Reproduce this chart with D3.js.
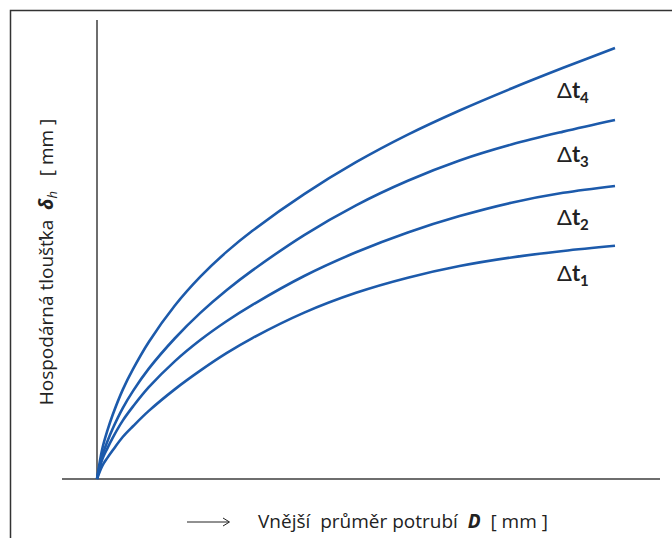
<!DOCTYPE html>
<html>
<head>
<meta charset="utf-8">
<script src="https://cdn.jsdelivr.net/npm/d3@7"></script>
<style>
  body { margin: 0; background: #fff; }
  svg { display: block; }
  text { font-family: "Open Sans", Lato, sans-serif; fill: #222; }
</style>
</head>
<body>
<svg id="chart" width="672" height="538"></svg>
<script>
// (relative units, D and thickness both 0..100)
var diameter = [0, 1, 2, 3, 5, 7, 10, 15, 20, 25, 30, 40, 50, 60, 70, 80, 90, 100];
var dt1 = [0, 3.0, 4.9, 6.6, 9.8, 12.3, 15.8, 20.8, 25.2, 29.2, 32.7, 38.6, 43.2, 46.7, 49.4, 51.4, 52.9, 54.1];
var dt2 = [0, 4.5, 7.1, 9.5, 13.6, 16.9, 21.3, 27.3, 32.3, 36.6, 40.4, 47.1, 52.6, 57.2, 61.0, 64.1, 66.4, 68.0];
var dt3 = [0, 5.4, 8.7, 11.6, 16.5, 20.5, 25.6, 32.6, 38.6, 43.8, 48.4, 56.6, 63.5, 69.2, 73.9, 77.6, 80.6, 83.3];
var dt4 = [0, 6.9, 11.2, 14.8, 20.8, 25.6, 31.8, 40.2, 47.0, 52.7, 57.6, 66.1, 73.5, 79.9, 85.5, 90.6, 95.4, 100];
var seriesNames = ["1", "2", "3", "4"];
var seriesValues = [dt1, dt2, dt3, dt4];

var svg = d3.select("#chart");

var x = d3.scaleLinear().domain([0, 100]).range([97, 615]);
var y = d3.scaleLinear().domain([0, 100]).range([479, 48]);

// frame (only top and left edge are in the picture)
svg.append("path")
  .attr("d", "M10.5,538 L10.5,10.5 L672,10.5")
  .attr("fill", "none")
  .attr("stroke", "#333")
  .attr("stroke-width", 1.5);

// axes
svg.append("line")
  .attr("x1", x(0)).attr("x2", x(0))
  .attr("y1", 20).attr("y2", y(0) + 1)
  .attr("stroke", "#6e6e6e").attr("stroke-width", 2);
svg.append("line")
  .attr("x1", 62).attr("x2", 660)
  .attr("y1", y(0)).attr("y2", y(0))
  .attr("stroke", "#6e6e6e").attr("stroke-width", 2);

var line = d3.line()
  .x(function (d, i) { return x(diameter[i]); })
  .y(function (d) { return y(d); })
  .curve(d3.curveCatmullRom.alpha(0.5));

svg.append("g").selectAll("path")
  .data(seriesValues)
  .enter().append("path")
  .attr("d", line)
  .attr("fill", "none")
  .attr("stroke", "#1c5aab")
  .attr("stroke-width", 2.6);

// curve labels
var labelY = [281, 225, 162, 98];
var lab = svg.append("g").selectAll("text")
  .data(seriesNames)
  .enter().append("text")
  .attr("x", 557)
  .attr("y", function (d, i) { return labelY[i]; })
  .style("font-family", "Lato, sans-serif")
  .style("font-size", "22px");
lab.append("tspan").text("\u0394");
lab.append("tspan").style("font-weight", "bold").text("t");
lab.append("tspan").style("font-weight", "bold").style("font-size", "15px")
  .attr("dy", 5).text(function (d) { return d; });

// y label
var yl = svg.append("text")
  .attr("transform", "translate(53,262) rotate(-90)")
  .attr("text-anchor", "middle")
  .attr("xml:space", "preserve")
  .style("font-size", "19px");
yl.append("tspan").text("Hospodárná tloušťka  ");
yl.append("tspan").style("font-weight", "bold").style("font-style", "italic").text("\u03b4");
yl.append("tspan").style("font-style", "italic").style("font-size", "13px").attr("dy", 4).text("h");
yl.append("tspan").attr("dy", -4).text("   [ mm ]");

// x label with arrow
svg.append("line")
  .attr("x1", 187).attr("x2", 229).attr("y1", 522).attr("y2", 522)
  .attr("stroke", "#222").attr("stroke-width", 1);
svg.append("path")
  .attr("d", "M223,518 L229.5,522 L223,526")
  .attr("fill", "none").attr("stroke", "#222").attr("stroke-width", 1);

var xl = svg.append("text")
  .attr("x", 258).attr("y", 528)
  .style("font-size", "19px")
  .attr("xml:space", "preserve");
xl.append("tspan").text("Vnější  průměr potrubí  ");
xl.append("tspan").style("font-weight", "bold").style("font-style", "italic").text("D");
xl.append("tspan").text("  [ mm ]");
</script>
</body>
</html>
